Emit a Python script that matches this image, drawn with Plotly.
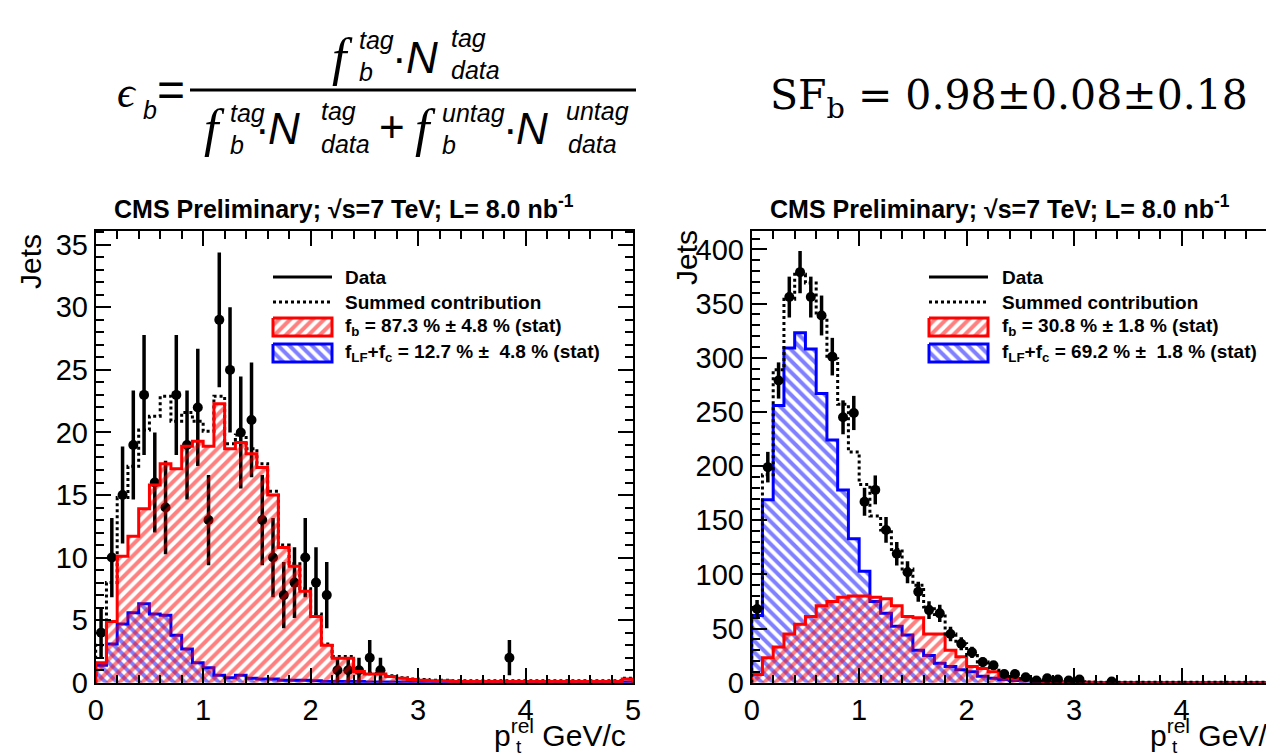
import numpy as np
import plotly.graph_objects as go

W, H = 1266, 755

# bin edges (0.1 GeV/c bins from 0 to 5)
edges = np.round(np.arange(0, 5.001, 0.1), 2)
centers = edges[:-1] + 0.05

# ---- left plot: tagged sample ----
left_b = [1.6, 4.9, 10.1, 11.7, 13.9, 15.8, 17.5, 17.1, 18.9, 19.3,
          18.9, 22.3, 18.7, 19.2, 18.3, 17.2, 15.0, 10.8, 9.3, 7.3,
          5.3, 3.0, 1.95, 1.95, 0.9, 0.7, 0.7, 0.5, 0.35, 0.25,
          0.2, 0.15, 0.15, 0.1, 0.1, 0.1, 0.1, 0.1, 0.1, 0.1,
          0.1, 0.1, 0.1, 0.1, 0.1, 0.1, 0.1, 0.1, 0.1, 0.3]
left_lf = [1.4, 3.1, 4.7, 5.6, 6.3, 5.5, 5.4, 3.8, 2.7, 1.6,
           1.2, 0.6, 0.4, 0.6, 0.35, 0.3, 0.3, 0.2, 0.2, 0.2,
           0.15, 0.1, 0.1, 0.1, 0.1, 0.05, 0.05, 0.05, 0.05, 0.05,
           0.05, 0.05, 0.05, 0.05, 0.05, 0.05, 0.05, 0.05, 0.05, 0.05,
           0.05, 0.05, 0.05, 0.05, 0.05, 0.05, 0.05, 0.05, 0.05, 0.05]
left_sum = [3.0, 8.0, 14.8, 17.3, 20.2, 21.3, 22.9, 20.9, 21.6, 20.9,
            20.1, 22.9, 19.1, 19.8, 18.7, 17.5, 15.3, 11.0, 9.5, 7.5,
            5.5, 3.1, 2.1, 2.1, 1.0, 0.75, 0.75, 0.55, 0.4, 0.3,
            0.25, 0.2, 0.2, 0.15, 0.15, 0.15, 0.15, 0.15, 0.15, 0.15,
            0.15, 0.15, 0.15, 0.15, 0.15, 0.15, 0.15, 0.15, 0.15, 0.35]
left_data = [4, 10, 15, 19, 23, 16, 14, 23, 19, 22,
             13, 29, 25, 20, 21, 13, 10, 7, 8, 10,
             8, 7, 1, 1, 1, 2, 1, 0, 0, 0,
             0, 0, 0, 0, 0, 0, 0, 0, 2, 0,
             0, 0, 0, 0, 0, 0, 0, 0, 0, 0]

# ---- right plot: untagged sample ----
right_b = [7.5, 23, 33, 45, 54, 61, 71, 75, 79, 80,
           80, 79, 77.5, 71, 61, 60, 45, 45, 30, 24,
           15, 13, 10, 5.2, 3.7, 2.0, 1.5, 1.0, 0.8, 0.6,
           0.5, 0.4, 0.3, 0.3, 0.3, 0.3, 0.3, 0.3, 0.3, 0.3,
           0.3, 0.3, 0.3, 0.3, 0.3, 0.3, 0.3, 0.3, 0.3, 0.3]
right_lf = [62, 169, 256, 309, 323, 308, 267, 224, 178, 133,
            103, 75, 64, 52, 44, 30, 25, 18, 15, 12,
            10, 6, 4, 3, 2, 1.5, 1.0, 0.7, 0.5, 0.4,
            0.3, 0.2, 0.2, 0.2, 0.2, 0.2, 0.2, 0.2, 0.2, 0.2,
            0.2, 0.2, 0.2, 0.2, 0.2, 0.2, 0.2, 0.2, 0.2, 0.2]
right_sum = [69, 192, 289, 354, 377, 369, 338, 299, 257, 213,
             183, 154, 141, 123, 105, 90, 70, 63, 45, 36,
             25, 19, 14, 8.2, 5.7, 3.5, 2.5, 1.7, 1.3, 1.0,
             0.8, 0.6, 0.5, 0.5, 0.5, 0.5, 0.5, 0.5, 0.5, 0.5,
             0.5, 0.5, 0.5, 0.5, 0.5, 0.5, 0.5, 0.5, 0.5, 0.5]
right_data = [68, 199, 279, 356, 379, 356, 339, 301, 245, 249,
              167, 178, 141, 119, 102, 84, 67, 64, 45, 36,
              28, 19, 16, 8, 8, 5, 2, 4, 3, 2,
              3, 0, 0, 1, 0, 0, 0, 0, 0, 0,
              0, 0, 0, 0, 0, 0, 0, 0, 0, 0]

left_legend = ["Data", "Summed contribution",
               "f<sub>b</sub> = 87.3 % \u00b1 4.8 % (stat)",
               "f<sub>LF</sub>+f<sub>c</sub> = 12.7 % \u00b1\u00a0\u00a04.8 % (stat)"]
right_legend = ["Data", "Summed contribution",
                "f<sub>b</sub> = 30.8 % \u00b1 1.8 % (stat)",
                "f<sub>LF</sub>+f<sub>c</sub> = 69.2 % \u00b1\u00a0\u00a01.8 % (stat)"]

FONT = "Liberation Sans"

# frame geometry in pixels
L_X0, L_X1 = 95.7, 633.0
R_X0, R_X1 = 751.7, 1266.0
Y_BOT, Y_TOP = 682.7, 231.0
px_per_unit = (L_X1 - L_X0) / 5.0
left_ymax, right_ymax = 36.1, 417.0
right_xmax = (R_X1 - R_X0) / px_per_unit

HATCH_SIZE, HATCH_SOL = 8, 0.5


def step_xy(vals):
    x = [0.0] + list(edges[:-1]) + [5.0, 5.0]
    y = [0.0] + list(vals) + [vals[-1], 0.0]
    return x, y


def hist_trace(vals, color, shape, xa, ya):
    x, y = step_xy(vals)
    return go.Scatter(x=x, y=y, mode="lines", line=dict(color=color, width=3, shape="hv"),
                      fill="tozeroy", fillcolor="rgba(0,0,0,0)",
                      fillpattern=dict(shape=shape, fgcolor=color, bgcolor="rgba(0,0,0,0)",
                                       size=HATCH_SIZE, solidity=HATCH_SOL),
                      xaxis=xa, yaxis=ya, hoverinfo="skip")


def data_trace(counts, xa, ya):
    y = [c if c > 0 else None for c in counts]
    err = [np.sqrt(c) for c in counts]
    return go.Scatter(x=centers, y=y, mode="markers",
                      marker=dict(color="black", size=10),
                      error_y=dict(type="data", array=err, color="black", thickness=3.5, width=0),
                      xaxis=xa, yaxis=ya)


def sum_trace(vals, xa, ya):
    x, y = step_xy(vals)
    return go.Scatter(x=x, y=y, mode="lines", line=dict(color="black", width=3, dash="dot", shape="hv"),
                      xaxis=xa, yaxis=ya, hoverinfo="skip")


fig = go.Figure()
# left
fig.add_trace(hist_trace(left_lf, "#0000ff", "\\", "x", "y"))
fig.add_trace(data_trace(left_data, "x", "y"))
fig.add_trace(sum_trace(left_sum, "x", "y"))
fig.add_trace(hist_trace(left_b, "#ff0000", "/", "x", "y"))
# right
fig.add_trace(hist_trace(right_lf, "#0000ff", "\\", "x2", "y2"))
fig.add_trace(hist_trace(right_b, "#ff0000", "/", "x2", "y2"))
fig.add_trace(sum_trace(right_sum, "x2", "y2"))
fig.add_trace(data_trace(right_data, "x2", "y2"))


def axis(domain, rng, dtick, minor, mirror, anchor):
    return dict(domain=domain, range=rng, dtick=dtick, tick0=0, ticks="inside", ticklen=15,
                tickwidth=2, tickcolor="black", automargin=False,
                minor=dict(dtick=minor, ticklen=8, tickwidth=2, ticks="inside", tickcolor="black"),
                showline=True, linewidth=2, linecolor="black", mirror=mirror,
                showgrid=False, zeroline=False, anchor=anchor,
                tickfont=dict(family=FONT, size=29, color="black"))


ydom = [1 - Y_BOT / H, 1 - Y_TOP / H]
fig.update_layout(
    width=W, height=H, margin=dict(l=0, r=0, t=0, b=0, pad=0),
    paper_bgcolor="white", plot_bgcolor="white", showlegend=False,
    xaxis=axis([L_X0 / W, L_X1 / W], [0, 5], 1, 0.2, "ticks", "y"),
    yaxis=axis(ydom, [0, left_ymax], 5, 1, "ticks", "x"),
    xaxis2=axis([R_X0 / W, 1.0], [0, right_xmax], 1, 0.2, "ticks", "y2"),
    yaxis2=axis(ydom, [0, right_ymax], 50, 10, False, "x2"),
)

annotations = []
shapes = []


def txt(s, xpx, ypx, size, xanchor="left", yanchor="middle", family=FONT, angle=0):
    annotations.append(dict(text=s, x=xpx / W, y=1 - ypx / H, xref="paper", yref="paper",
                            xanchor=xanchor, yanchor=yanchor, showarrow=False, textangle=angle,
                            font=dict(family=family, size=size, color="black")))


# titles
title = "<b>CMS Preliminary; \u221as=7 TeV; L= 8.0 nb<sup>-1</sup></b>"
txt(title, 344, 207, 25, xanchor="center")
txt(title, 1000, 207, 25, xanchor="center")

# axis titles
txt("Jets", 30, 261, 30, xanchor="center", angle=-90)
txt("Jets", 686, 258, 30, xanchor="center", angle=-90)
txt("p<sup>rel</sup> GeV/c", 628, 733, 30, xanchor="right")
txt("t", 519, 746, 19, xanchor="center")
txt("p<sup>rel</sup> GeV/c", 1284, 733, 30, xanchor="right")
txt("t", 1175, 746, 19, xanchor="center")


def legend(entries, x_line0, x_line1, x_text, x0px, ymax, xa, ya):
    rows = [277, 302, 327, 353]
    shapes.append(dict(type="line", xref="paper", yref="paper", x0=x_line0 / W, x1=x_line1 / W,
                       y0=1 - rows[0] / H, y1=1 - rows[0] / H, line=dict(color="black", width=3)))
    shapes.append(dict(type="line", xref="paper", yref="paper", x0=x_line0 / W, x1=x_line1 / W,
                       y0=1 - rows[1] / H, y1=1 - rows[1] / H,
                       line=dict(color="black", width=3, dash="dot")))
    for r, color, shape in [(rows[2], "#ff0000", "/"), (rows[3], "#0000ff", "\\")]:
        bx = [x_line0, x_line1, x_line1, x_line0, x_line0]
        by = [r - 9, r - 9, r + 9, r + 9, r - 9]
        xd = [(p - x0px) / px_per_unit for p in bx]
        yd = [ymax * (Y_BOT - p) / (Y_BOT - Y_TOP) for p in by]
        fig.add_trace(go.Scatter(x=xd, y=yd, mode="lines", fill="toself",
                                 fillcolor="rgba(0,0,0,0)",
                                 fillpattern=dict(shape=shape, fgcolor=color,
                                                  bgcolor="rgba(0,0,0,0)", size=HATCH_SIZE,
                                                  solidity=HATCH_SOL),
                                 line=dict(color=color, width=3), xaxis=xa, yaxis=ya,
                                 hoverinfo="skip"))
    for r, s in zip(rows, entries):
        txt("<b>" + s + "</b>", x_text, r, 19)


legend(left_legend, 273, 332, 343, L_X0, left_ymax, "x", "y")
legend(right_legend, 929, 988, 1000, R_X0, right_ymax, "x2", "y2")

# efficiency formula
SERIF = "Liberation Serif"
fs, ff, fsub = 44, 52, 25
txt("<i>\u03f5</i>", 127, 92, fs, xanchor="center", family=SERIF)
txt("<i>b</i>", 141, 110, fsub)
txt("=", 171, 90, 48, xanchor="center", family=FONT)
shapes.append(dict(type="line", xref="paper", yref="paper", x0=190 / W, x1=636 / W,
                   y0=1 - 90 / H, y1=1 - 90 / H, line=dict(color="black", width=3)))
# numerator
txt("<i>f</i>", 342, 57, ff, xanchor="center", family=SERIF)
txt("<i>tag</i>", 357, 40, fsub)
txt("<i>b</i>", 357, 72, fsub)
txt("\u00b7", 399, 58, fs, xanchor="center")
txt("<i>N</i>", 404, 58, fs)
txt("<i>tag</i>", 449, 38, fsub)
txt("<i>data</i>", 449, 70, fsub)
# denominator
txt("<i>f</i>", 215, 128, ff, xanchor="center", family=SERIF)
txt("<i>tag</i>", 228, 113, fsub)
txt("<i>b</i>", 228, 145, fsub)
txt("\u00b7", 262, 128, fs, xanchor="center")
txt("<i>N</i>", 266, 128, fs)
txt("<i>tag</i>", 319, 111, fsub)
txt("<i>data</i>", 319, 144, fsub)
txt("+", 392, 126, fs, xanchor="center")
txt("<i>f</i>", 426, 128, ff, xanchor="center", family=SERIF)
txt("<i>untag</i>", 440, 113, fsub)
txt("<i>b</i>", 440, 145, fsub)
txt("\u00b7", 510, 128, fs, xanchor="center")
txt("<i>N</i>", 514, 128, fs)
txt("<i>untag</i>", 564, 111, fsub)
txt("<i>data</i>", 566, 144, fsub)

# scale factor
txt("SF<sub>b</sub> = 0.98\u00b10.08\u00b10.18", 768, 98, 41, family="DejaVu Serif")

fig.update_layout(annotations=annotations, shapes=shapes)
# drop the default page margin so the figure sits at the window's top-left corner
fig.write_html("out.html", config={"displayModeBar": False},
               post_script="document.body.style.margin='0';")
